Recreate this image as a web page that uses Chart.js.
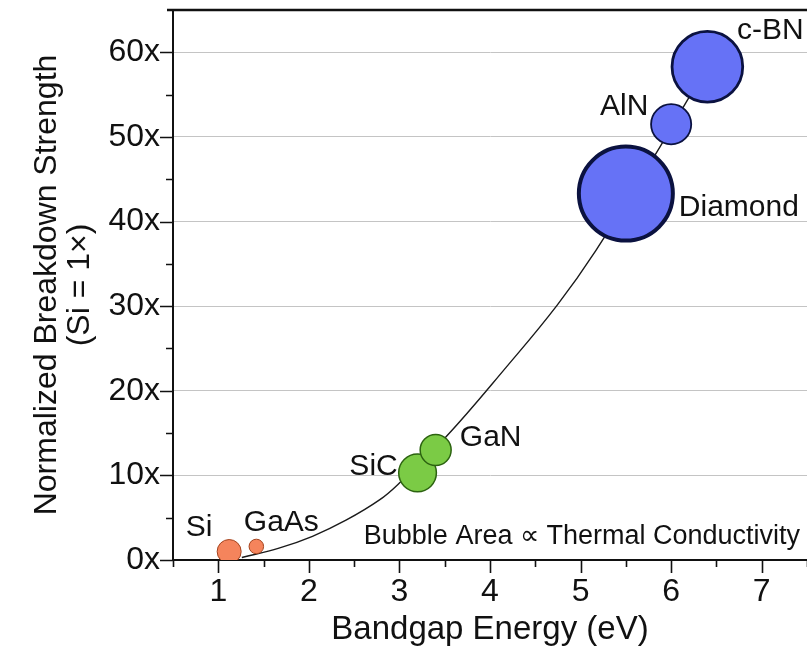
<!DOCTYPE html>
<html lang="en">
<head>
    <meta charset="UTF-8">
    <title>Bandgap vs Breakdown Strength</title>
    <script src="https://cdn.jsdelivr.net/npm/chart.js"></script>
    <style>
        body { margin: 0; background: #fff; }
        canvas { display: block; }
    </style>
</head>
<body>
    <canvas id="bubbleChart" width="807" height="656"></canvas>

    <script>
        // Materials data
        const materials = ['Si', 'GaAs', 'SiC', 'GaN', 'Diamond', 'AlN', 'c-BN'];
        const bandgap = [1.12, 1.42, 3.2, 3.4, 5.5, 6.0, 6.4];          // eV
        const breakdown = [1, 1.6, 10.3, 13, 43.3, 51.5, 58.3];          // normalized to Si
        const thermalCond = [1.5, 0.55, 3.7, 2.5, 23, 4.2, 13];         // W/cm-K, bubble area
        const groups = ['low', 'low', 'wide', 'wide', 'ultra', 'ultra', 'ultra'];

        // Trend curve
        const fitX = [1.26, 1.67, 2.04, 2.41, 2.78, 3.0, 3.51, 4.18, 4.74, 5.17, 5.83, 6.16, 6.4];
        const fitY = [0.3, 1.4, 2.8, 4.7, 7.1, 9.1, 14.5, 22.8, 30.1, 36.6, 48, 54, 58.3];

        const yTickLabels = [0, 10, 20, 30, 40, 50, 60];
        const xTickLabels = [1, 2, 3, 4, 5, 6, 7];

        // Styles
        const FONT = '"Liberation Sans", Arial, sans-serif';
        const RADIUS_SCALE = 9.8;
        const fillColors = { low: '#f5845c', wide: '#7bcb45', ultra: '#6672f6' };
        const edgeColors = { low: '#a3441f', wide: '#2c6310', ultra: '#0b1240' };
        const edgeWidths = [1, 1, 1.5, 1.5, 4, 1.8, 2.8];
        const labelOffsets = {
            'Si': [-30, -24], 'GaAs': [25, -24], 'SiC': [-44, -6], 'GaN': [55, -12],
            'Diamond': [113, 14], 'AlN': [-47, -17], 'c-BN': [63, -36]
        };

        // Minor/major ticks, top frame, labels
        const decorations = {
            id: 'decorations',
            afterDraw(chart) {
                const ctx = chart.ctx;
                const area = chart.chartArea;
                const xs = chart.scales.x;
                const ys = chart.scales.y;
                ctx.save();
                ctx.strokeStyle = '#111';
                ctx.lineWidth = 1.6;
                ctx.beginPath();
                for (let v = 0.5; v <= 7.5; v += 0.5) {
                    const px = Math.round(xs.getPixelForValue(v)) + 0.5;
                    const len = Number.isInteger(v) ? 13 : 7;
                    ctx.moveTo(px, area.bottom);
                    ctx.lineTo(px, area.bottom + len);
                }
                for (let v = 0; v <= 60; v += 5) {
                    const py = Math.round(ys.getPixelForValue(v)) + 0.5;
                    const len = v % 10 === 0 ? 13 : 7;
                    ctx.moveTo(area.left, py);
                    ctx.lineTo(area.left - len, py);
                }
                ctx.stroke();

                // top frame
                ctx.lineWidth = 2.5;
                ctx.beginPath();
                ctx.moveTo(area.left - 6, area.top);
                ctx.lineTo(area.right, area.top);
                ctx.stroke();

                // bubble labels
                const meta = chart.getDatasetMeta(1);
                ctx.fillStyle = '#111';
                ctx.font = '30px ' + FONT;
                ctx.textAlign = 'center';
                ctx.textBaseline = 'middle';
                meta.data.forEach((pt, i) => {
                    const off = labelOffsets[materials[i]];
                    ctx.fillText(materials[i], pt.x + off[0], pt.y + off[1]);
                });

                ctx.font = '27px ' + FONT;
                ctx.textAlign = 'right';
                ctx.fillText('Bubble Area \u221D Thermal Conductivity', area.right - 7, area.bottom - 23);
                ctx.restore();
            }
        };

        new Chart(document.getElementById('bubbleChart'), {
            type: 'bubble',
            data: {
                datasets: [{
                    type: 'line',
                    label: 'Trend',
                    data: fitX.map((x, i) => ({ x: x, y: fitY[i] })),
                    borderColor: '#1a1a1a',
                    borderWidth: 1.4,
                    pointRadius: 0,
                    tension: 0.4,
                    fill: false,
                    order: 2
                }, {
                    label: 'Materials',
                    data: materials.map((m, i) => ({
                        x: bandgap[i],
                        y: breakdown[i],
                        r: RADIUS_SCALE * Math.sqrt(thermalCond[i])
                    })),
                    backgroundColor: groups.map(g => fillColors[g]),
                    borderColor: groups.map(g => edgeColors[g]),
                    borderWidth: edgeWidths,
                    order: 1
                }]
            },
            options: {
                responsive: false,
                animation: false,
                layout: { padding: { top: 10, right: 0, left: 0, bottom: 0 }, autoPadding: false },
                plugins: { legend: { display: false }, tooltip: { enabled: false } },
                scales: {
                    x: {
                        type: 'linear',
                        min: 0.5,
                        max: 7.5,
                        afterFit: scale => { scale.height = 96; },
                        afterBuildTicks: scale => { scale.ticks = xTickLabels.map(v => ({ value: v })); },
                        ticks: {
                            autoSkip: false,
                            maxRotation: 0,
                            padding: 5,
                            color: '#111',
                            font: { family: FONT, size: 32 }
                        },
                        grid: { display: false },
                        border: { color: '#111', width: 2 },
                        title: {
                            display: true,
                            text: 'Bandgap Energy (eV)',
                            color: '#111',
                            font: { family: FONT, size: 33 },
                            padding: { top: 0, bottom: 6 }
                        }
                    },
                    y: {
                        min: 0,
                        max: 65,
                        afterFit: scale => { scale.width = 173; },
                        afterBuildTicks: scale => { scale.ticks = yTickLabels.map(v => ({ value: v })); },
                        ticks: {
                            autoSkip: false,
                            padding: 0,
                            color: '#111',
                            font: { family: FONT, size: 32, lineHeight: 0.5 },
                            callback: v => v + 'x'
                        },
                        grid: {
                            drawTicks: true,
                            tickLength: 13,
                            tickColor: 'rgba(0,0,0,0)',
                            color: c => (c.tick && c.tick.value > 0) ? '#c4c4c4' : 'rgba(0,0,0,0)',
                            lineWidth: 1
                        },
                        border: { color: '#111', width: 2 },
                        title: {
                            display: true,
                            text: ['Normalized Breakdown Strength', '(Si = 1\u00D7)'],
                            color: '#111',
                            font: { family: FONT, size: 32, lineHeight: 1.03 },
                            padding: { top: 31, bottom: 0 }
                        }
                    }
                }
            },
            plugins: [decorations]
        });
    </script>
</body>
</html>
